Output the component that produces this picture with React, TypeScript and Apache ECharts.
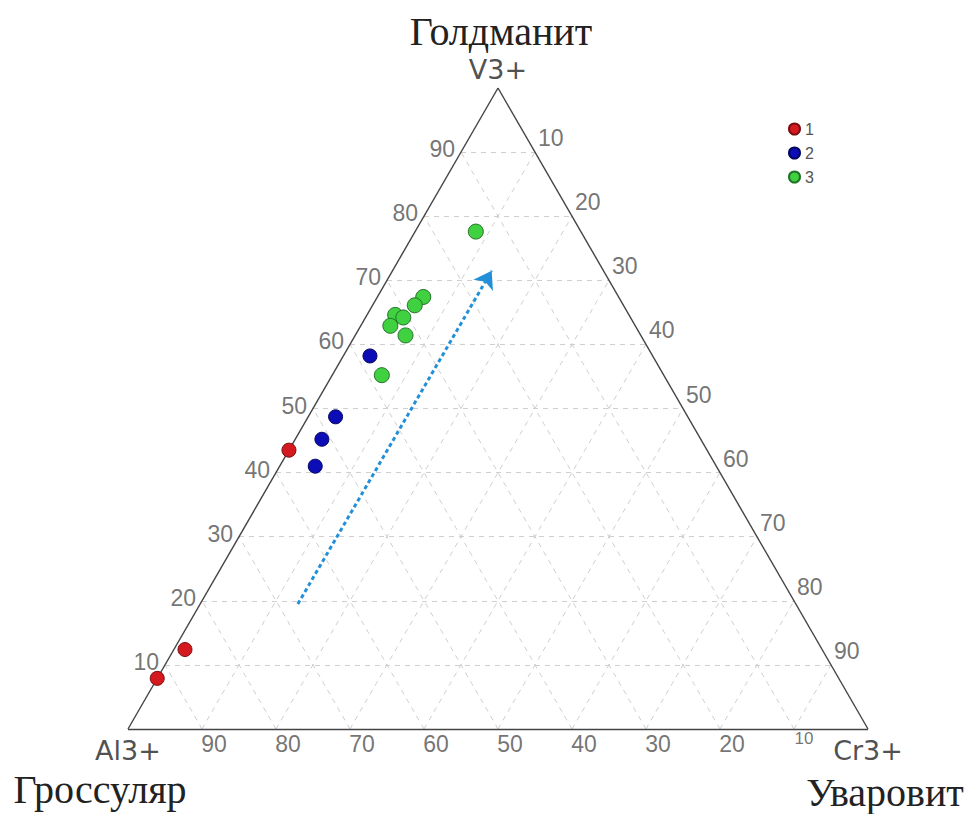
import React, { useEffect, useRef } from "react";
import * as echarts from "echarts";

// Ternary plot Al3+ – Cr3+ – V3+ (garnet end-members)
// Every composition is [Al, Cr, V] in percent.
const ticks = [10, 20, 30, 40, 50, 60, 70, 80, 90];

const group1: number[][] = [
  [56.5, 0.0, 43.5],
  [86.1, 1.5, 12.4],
  [92.1, 0.0, 7.9],
];

const group2: number[][] = [
  [38.2, 3.6, 58.2],
  [47.6, 3.7, 48.7],
  [51.2, 3.6, 45.2],
  [54.2, 4.8, 41.0],
];

const group3: number[][] = [
  [14.2, 8.2, 77.6],
  [26.4, 6.2, 67.4],
  [28.2, 5.7, 66.1],
  [31.6, 3.8, 64.6],
  [30.7, 5.1, 64.2],
  [33.1, 4.0, 62.9],
  [31.8, 6.8, 61.4],
  [38.1, 6.7, 55.2],
];

// trend arrow: start and end composition [Al, Cr, V]
const trendFrom = [67.3, 13.2, 19.5];
const trendTo = [15.1, 13.4, 71.5];

const vertices = [
  { name: "Al3+", comp: [100, 0, 0] },
  { name: "Cr3+", comp: [0, 100, 0] },
  { name: "V3+", comp: [0, 0, 100] },
];

const seriesNames = ["1", "2", "3"];

const H = Math.sqrt(3) / 2;

// [Al, Cr, V] -> cartesian (Al at the left corner, Cr at the right, V on top)
function toXY(c: number[]): number[] {
  const s = c[0] + c[1] + c[2];
  const cr = c[1] / s;
  const v = c[2] / s;
  return [cr + v / 2, v * H];
}

function seg(a: number[], b: number[]) {
  return { coords: [toXY(a), toXY(b)] };
}

export default function App() {
  const ref = useRef<HTMLDivElement>(null);

  useEffect(() => {
    if (!ref.current) return;
    const chart = echarts.init(ref.current, null, { renderer: "svg" });

    const gridLines: any[] = [];
    ticks.forEach((t) => {
      gridLines.push(seg([100 - t, 0, t], [0, 100 - t, t])); // constant V
      gridLines.push(seg([t, 100 - t, 0], [t, 0, 100 - t])); // constant Al
      gridLines.push(seg([100 - t, t, 0], [0, t, 100 - t])); // constant Cr
    });

    const edges = [
      seg(vertices[0].comp, vertices[1].comp),
      seg(vertices[1].comp, vertices[2].comp),
      seg(vertices[2].comp, vertices[0].comp),
    ];

    const tickFont = {
      fontFamily: "Liberation Sans, Arial, sans-serif",
      fontSize: 23,
      color: "#505050",
    };

    const labelSeries = (data: any[], label: any) => ({
      type: "scatter",
      silent: true,
      symbolSize: 0,
      data,
      label: { show: true, formatter: "{b}", ...tickFont, ...label },
      z: 5,
    });

    const leftTicks = ticks.map((t) => ({ name: String(t), value: toXY([100 - t, 0, t]) }));
    const rightTicks = ticks.map((t) => ({ name: String(t), value: toXY([0, t, 100 - t]) }));
    const bottomTicks = ticks.map((t) => {
      const item: any = { name: String(t), value: toXY([t, 100 - t, 0]) };
      if (t === 10) item.label = { fontSize: 17, offset: [10, -2] };
      return item;
    });

    const pointSeries = (name: string, data: number[][], color: string, border: string, size: number) => ({
      type: "scatter",
      name,
      data: data.map(toXY),
      symbol: "circle",
      symbolSize: size,
      itemStyle: { color, borderColor: border, borderWidth: 1, opacity: 1 },
      z: 10,
    });

    const vertexFont = {
      fontFamily: "DejaVu Sans, sans-serif",
      fontSize: 27,
      color: "#222",
    };

    const mineralFont = "40px 'Liberation Serif', 'Times New Roman', serif";

    chart.setOption({
      animation: false,
      backgroundColor: "#ffffff",
      grid: { left: 128, top: 88, width: 740, height: 641 },
      xAxis: { type: "value", min: 0, max: 1, show: false },
      yAxis: { type: "value", min: 0, max: H, show: false },
      legend: {
        data: seriesNames,
        orient: "vertical",
        left: 783,
        top: 116,
        icon: "circle",
        itemWidth: 11,
        itemHeight: 11,
        itemGap: 8,
        textStyle: {
          fontFamily: "Liberation Sans, Arial, sans-serif",
          fontSize: 16,
          lineHeight: 16,
          color: "#555",
        },
      },
      graphic: [
        {
          type: "text",
          x: 501,
          y: 31,
          style: { text: "Голдманит", font: mineralFont, fill: "#222", align: "center", verticalAlign: "middle" },
        },
        {
          type: "text",
          x: 100,
          y: 789,
          style: { text: "Гроссуляр", font: mineralFont, fill: "#222", align: "center", verticalAlign: "middle" },
        },
        {
          type: "text",
          x: 885,
          y: 792,
          style: { text: "Уваровит", font: mineralFont, fill: "#222", align: "center", verticalAlign: "middle" },
        },
      ],
      series: [
        {
          type: "lines",
          coordinateSystem: "cartesian2d",
          silent: true,
          clip: false,
          data: gridLines,
          lineStyle: { color: "#cfcfcf", width: 1, type: [5, 5], opacity: 1 },
          z: 1,
        },
        {
          type: "lines",
          coordinateSystem: "cartesian2d",
          silent: true,
          clip: false,
          data: edges,
          lineStyle: { color: "#444", width: 1.4, type: "solid", opacity: 1 },
          z: 3,
        },
        {
          type: "lines",
          coordinateSystem: "cartesian2d",
          silent: true,
          clip: false,
          data: [seg(trendFrom, trendTo)],
          symbol: ["none", "arrow"],
          symbolSize: 17,
          lineStyle: { color: "#2290d8", width: 3, type: [4, 3], opacity: 1 },
          z: 4,
        },
        labelSeries(leftTicks, { position: "left", distance: 6, offset: [0, -3] }),
        labelSeries(rightTicks, { position: "right", distance: 3, offset: [0, -14] }),
        labelSeries(bottomTicks, { position: "bottom", distance: 3, offset: [12, 0] }),
        {
          type: "scatter",
          silent: true,
          symbolSize: 0,
          data: vertices.map((v) => ({
            name: v.name,
            value: toXY(v.comp),
            label: { position: v.name === "V3+" ? "top" : "bottom", distance: v.name === "V3+" ? 5 : 8 },
          })),
          label: { show: true, formatter: "{b}", ...vertexFont },
          z: 5,
        },
        pointSeries(seriesNames[0], group1, "#d41a1f", "#7a0d0f", 14),
        pointSeries(seriesNames[1], group2, "#0d0db8", "#05055e", 14),
        pointSeries(seriesNames[2], group3, "#3fd13f", "#23702a", 15),
      ],
    });

    return () => chart.dispose();
  }, []);

  return (
    <div
      ref={ref}
      style={{ position: "absolute", left: 0, top: 0, width: 968, height: 814 }}
    />
  );
}
